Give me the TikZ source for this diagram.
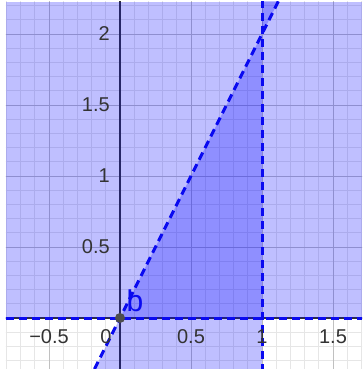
\documentclass[tikz,border=0pt]{standalone}
\usepackage{fontspec}
\setmainfont{Liberation Sans}
\definecolor{gridminor}{HTML}{E6E6E6}
\definecolor{gridmajor}{HTML}{C0C0C0}
\definecolor{axiscol}{HTML}{333333}
\definecolor{linecol}{HTML}{0A0AF0}
\definecolor{ptcol}{HTML}{4D4D4D}
\tikzset{
  ticklab/.style={text=axiscol, inner sep=0pt, font=\fontsize{20}{24}\selectfont},
  dashline/.style={linecol, line width=3pt, dash pattern=on 8pt off 5pt},
  shade/.style={fill=blue, fill opacity=0.25, draw=none},
}
\begin{document}
\begin{tikzpicture}[x=142pt,y=142pt]
\useasboundingbox (-0.84507,-0.35915) rectangle (1.70423,2.23944);
\fill[white] (-0.84507,-0.35915) rectangle (1.70423,2.23944);
\begin{scope}
\clip (-0.80282,-0.35915) rectangle (1.70423,2.22535);
% grid
\draw[gridminor, line width=0.8pt, xstep=0.1, ystep=0.1] (-0.9,-0.4) grid (1.8,2.3);
\draw[gridmajor, line width=0.9pt, xstep=0.5, ystep=0.5] (-0.9,-0.4) grid (1.8,2.3);
% axes
\draw[axiscol, line width=1.3pt] (-0.9,0) -- (1.8,0);
\draw[axiscol, line width=1.3pt] (0,-0.4) -- (0,2.3);
% shaded regions
\path[shade] (-0.80282,0) rectangle (1.70423,2.22535);
\path[shade] (1,2.3) -- (1,-0.4) -- (-0.2,-0.4) -- (1.15,2.3) -- cycle;
% dashed lines
\draw[dashline] (-0.80282,0) -- (1.70423,0);
\draw[dashline] (1,2.23944) -- (1,-0.35915);
\draw[dashline] (-0.17958,-0.35915) -- (1.11972,2.23944);
\end{scope}
% tick labels x
\node[ticklab] (xm05) at ([yshift=-19pt]-0.5,0) {−0.5};
\node[ticklab] (x0) at ([xshift=-14pt,yshift=-19pt]0,0) {0};
\node[ticklab] (x05) at ([yshift=-19pt]0.5,0) {0.5};
\node[ticklab] (x1) at ([yshift=-19pt]1,0) {1};
\node[ticklab] (x15) at ([yshift=-19pt]1.5,0) {1.5};
% tick labels y
\node[ticklab, anchor=east] (y05) at ([xshift=-10pt]0,0.5) {0.5};
\node[ticklab, anchor=east] (y1) at ([xshift=-10pt]0,1) {1};
\node[ticklab, anchor=east] (y15) at ([xshift=-10pt]0,1.5) {1.5};
\node[ticklab, anchor=east] (y2) at ([xshift=-10pt]0,2) {2};
% point b
\fill[ptcol] (0,0) circle (5pt);
\coordinate (b) at (0,0);
\node[text=linecol, inner sep=0pt, font=\fontsize{30}{32}\selectfont] (blab) at (0.1056,0.1197) {b};
\end{tikzpicture}
\end{document}
